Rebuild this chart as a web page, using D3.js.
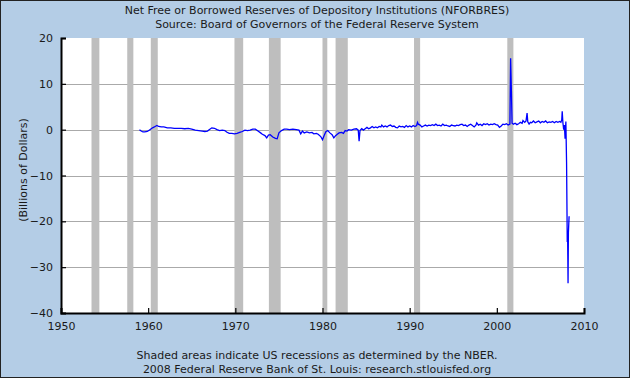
<!DOCTYPE html>
<html>
<head>
<meta charset="utf-8">
<script src="https://cdn.jsdelivr.net/npm/d3@7"></script>
<style>
  html, body { margin: 0; padding: 0; background: #B4CDE6; }
  svg { display: block; }
  text { font-family: "DejaVu Sans", Verdana, sans-serif; fill: #1a1a1a; }
</style>
</head>
<body>
<svg id="chart" width="630" height="378"></svg>
<script>
// ---- Data ----
const titleLines = [
  "Net Free or Borrowed Reserves of Depository Institutions (NFORBRES)",
  "Source: Board of Governors of the Federal Reserve System"
];
const footerLines = [
  "Shaded areas indicate US recessions as determined by the NBER.",
  "2008 Federal Reserve Bank of St. Louis: research.stlouisfed.org"
];
const yAxisTitle = "(Billions of Dollars)";
const xTicks = [1950, 1960, 1970, 1980, 1990, 2000, 2010];
const yTicks = [-40, -30, -20, -10, 0, 10, 20];

const recessionStarts = [1953.5, 1957.6, 1960.3, 1969.9, 1973.85, 1980.0, 1981.5, 1990.5, 2001.2];
const recessionEnds   = [1954.4, 1958.3, 1961.1, 1970.9, 1975.2, 1980.55, 1982.9, 1991.2, 2001.9];

// [year, billions of dollars]
const observations = [
  [1959.0, 0.0], [1959.2, -0.3], [1959.4, -0.5], [1959.6, -0.5], [1959.9, -0.4],
  [1960.2, 0.0], [1960.5, 0.4], [1960.8, 0.7], [1961.0, 0.9], [1961.2, 0.7],
  [1961.5, 0.6], [1961.8, 0.6], [1962.2, 0.4], [1962.6, 0.4], [1963.0, 0.3],
  [1963.4, 0.3], [1963.8, 0.3], [1964.2, 0.2], [1964.6, 0.3], [1965.0, 0.1],
  [1965.4, -0.1], [1965.8, -0.2], [1966.2, -0.3], [1966.5, -0.4], [1966.8, -0.3],
  [1967.0, 0.0], [1967.3, 0.4], [1967.6, 0.3], [1967.9, 0.0], [1968.2, -0.2],
  [1968.5, -0.1], [1968.8, -0.2], [1969.0, -0.5], [1969.3, -0.8], [1969.6, -0.8],
  [1969.9, -0.9], [1970.2, -0.8], [1970.5, -0.6], [1970.8, -0.4], [1971.1, -0.1],
  [1971.4, -0.2], [1971.7, -0.1], [1972.0, 0.1], [1972.3, 0.1], [1972.6, -0.3],
  [1972.9, -0.7], [1973.1, -1.0], [1973.4, -1.3], [1973.6, -1.8], [1973.8, -1.2],
  [1974.0, -1.1], [1974.3, -1.6], [1974.6, -1.9], [1974.8, -2.0], [1975.0, -0.7],
  [1975.3, -0.2], [1975.6, 0.1], [1975.9, 0.1], [1976.2, 0.0], [1976.6, 0.1],
  [1977.0, 0.0], [1977.3, -0.1], [1977.5, -0.9], [1977.7, -0.3], [1977.9, -0.7],
  [1978.2, -0.5], [1978.5, -0.7], [1978.8, -0.6], [1979.0, -0.9], [1979.3, -0.8],
  [1979.5, -1.0], [1979.8, -1.5], [1980.0, -2.2], [1980.2, -1.2], [1980.4, -0.4],
  [1980.6, -0.2], [1980.85, -0.7], [1981.1, -1.1], [1981.3, -1.8], [1981.5, -1.3],
  [1981.7, -1.0], [1981.9, -0.7], [1982.2, -0.6], [1982.4, -0.8], [1982.6, -0.2],
  [1982.8, -0.3], [1983.0, 0.0], [1983.3, -0.1], [1983.6, 0.1], [1983.9, 0.2],
  [1984.1, -0.1], [1984.2, -2.5], [1984.3, -0.2], [1984.5, 0.2], [1984.7, -0.1],
  [1984.9, 0.2], [1985.1, 0.5], [1985.3, 0.2], [1985.5, 0.4], [1985.7, 0.7],
  [1985.9, 0.4], [1986.1, 0.6], [1986.3, 0.4], [1986.5, 0.7], [1986.7, 0.6],
  [1986.8, 1.0], [1987.0, 0.6], [1987.2, 0.8], [1987.4, 0.6], [1987.6, 0.9],
  [1987.8, 1.0], [1988.0, 0.7], [1988.2, 0.8], [1988.4, 0.5], [1988.6, 0.4],
  [1988.8, 0.8], [1989.0, 0.6], [1989.2, 0.7], [1989.4, 0.5], [1989.6, 0.9],
  [1989.8, 0.6], [1990.0, 0.8], [1990.2, 0.6], [1990.4, 0.9], [1990.6, 0.7],
  [1990.8, 0.9], [1990.9, 1.6], [1991.0, 1.2], [1991.2, 1.0], [1991.4, 0.6],
  [1991.6, 0.8], [1991.8, 1.0], [1992.0, 0.8], [1992.2, 1.0], [1992.4, 0.9],
  [1992.6, 1.1], [1992.8, 0.9], [1993.0, 1.2], [1993.2, 0.9], [1993.4, 1.0],
  [1993.6, 0.8], [1993.8, 1.2], [1994.0, 0.9], [1994.2, 1.0], [1994.4, 0.8],
  [1994.6, 0.7], [1994.8, 1.0], [1995.0, 0.9], [1995.2, 0.8], [1995.4, 1.0],
  [1995.6, 0.9], [1995.8, 1.1], [1996.0, 1.2], [1996.2, 0.9], [1996.4, 1.0],
  [1996.6, 0.7], [1996.8, 1.0], [1997.0, 1.2], [1997.2, 0.9], [1997.4, 0.6],
  [1997.6, 1.0], [1997.7, 1.5], [1997.9, 1.0], [1998.1, 1.2], [1998.3, 0.9],
  [1998.5, 1.3], [1998.7, 1.1], [1998.9, 1.3], [1999.1, 1.0], [1999.3, 1.2],
  [1999.5, 1.1], [1999.7, 1.3], [1999.9, 1.1], [2000.1, 1.0], [2000.3, 0.5],
  [2000.5, 0.8], [2000.7, 1.2], [2000.9, 1.1], [2001.1, 1.3], [2001.3, 1.0],
  [2001.5, 1.2], [2001.58, 15.6], [2001.67, 8.5], [2001.75, 1.4], [2001.9, 1.2],
  [2002.1, 1.4], [2002.3, 1.1], [2002.5, 1.3], [2002.7, 1.6], [2002.9, 1.4],
  [2003.0, 2.0], [2003.2, 1.6], [2003.35, 1.9], [2003.47, 3.6], [2003.55, 1.7],
  [2003.7, 1.2], [2003.85, 1.6], [2004.0, 1.5], [2004.2, 1.9], [2004.4, 1.5],
  [2004.6, 1.7], [2004.8, 1.9], [2005.0, 1.5], [2005.2, 1.8], [2005.4, 1.6],
  [2005.6, 1.9], [2005.8, 1.5], [2006.0, 1.7], [2006.2, 1.6], [2006.4, 1.8],
  [2006.6, 1.5], [2006.8, 1.8], [2007.0, 1.6], [2007.2, 1.8], [2007.35, 1.6],
  [2007.45, 2.2], [2007.5, 4.0], [2007.58, 1.5], [2007.67, 0.0], [2007.75, 1.0],
  [2007.83, -2.0], [2007.92, 1.8], [2008.0, -7.1], [2008.08, -24.5], [2008.12, -22.5],
  [2008.17, -33.5], [2008.21, -22.5], [2008.29, -18.9]
];

// ---- Drawing ----
const W = 630, H = 378;
const svg = d3.select("#chart");
const x = d3.scaleLinear().domain([1950, 2010]).range([61, 584]);
const y = d3.scaleLinear().domain([-40, 20]).range([313, 38]);

svg.append("rect").attr("x", 0.5).attr("y", 0.5).attr("width", W - 1).attr("height", H - 1)
  .attr("fill", "#B4CDE6").attr("stroke", "#222").attr("stroke-width", 1);

svg.append("rect").attr("x", x(1950)).attr("y", y(20))
  .attr("width", x(2010) - x(1950)).attr("height", y(-40) - y(20)).attr("fill", "#fff");

// gridlines
svg.append("g").selectAll("line").data(yTicks.filter(d => d > -40 && d < 20)).join("line")
  .attr("x1", x(1950)).attr("x2", x(2010))
  .attr("y1", d => Math.round(y(d)) + 0.5).attr("y2", d => Math.round(y(d)) + 0.5)
  .attr("stroke", "#AAAAAA").attr("stroke-width", 1);

// recession shading
const rec = recessionStarts.map((s, i) => ({ s, e: recessionEnds[i] }));
svg.append("g").selectAll("rect").data(rec).join("rect")
  .attr("x", d => x(d.s)).attr("width", d => x(d.e) - x(d.s))
  .attr("y", y(20)).attr("height", y(-40) - y(20))
  .attr("fill", "#BEBEBE");

// series line
svg.append("path").datum(observations)
  .attr("fill", "none").attr("stroke", "#0000FF").attr("stroke-width", 1.3)
  .attr("stroke-linejoin", "miter")
  .attr("d", d3.line().x(d => x(d[0])).y(d => y(d[1])));

// axes
const yAxis = d3.axisLeft(y).tickValues(yTicks).tickSize(-5).tickPadding(8).tickFormat(d3.format("d"));
const gy = svg.append("g").attr("transform", `translate(${x(1950)},0)`).call(yAxis);
const xAxis = d3.axisBottom(x).tickValues(xTicks).tickSize(-5).tickPadding(9).tickFormat(d3.format("d"));
const gx = svg.append("g").attr("transform", `translate(0,${y(-40)})`).call(xAxis);
[gx, gy].forEach(g => {
  g.select(".domain").attr("stroke", "#000").attr("stroke-width", 2);
  g.selectAll(".tick line").attr("stroke", "#000").attr("stroke-width", 1.2);
  g.selectAll(".tick text").attr("font-size", 11).attr("font-family", '"DejaVu Sans", sans-serif').attr("fill", "#1a1a1a");
});

// titles
svg.append("g").selectAll("text").data(titleLines).join("text")
  .attr("x", 317).attr("y", (d, i) => 14 + i * 14)
  .attr("text-anchor", "middle").attr("font-size", 11).text(d => d);

svg.append("g").selectAll("text").data(footerLines).join("text")
  .attr("x", 317).attr("y", (d, i) => 359 + i * 14)
  .attr("text-anchor", "middle").attr("font-size", 11).text(d => d);

svg.append("text")
  .attr("transform", "translate(27,170) rotate(-90)")
  .attr("text-anchor", "middle").attr("font-size", 11).text(yAxisTitle);
</script>
</body>
</html>
